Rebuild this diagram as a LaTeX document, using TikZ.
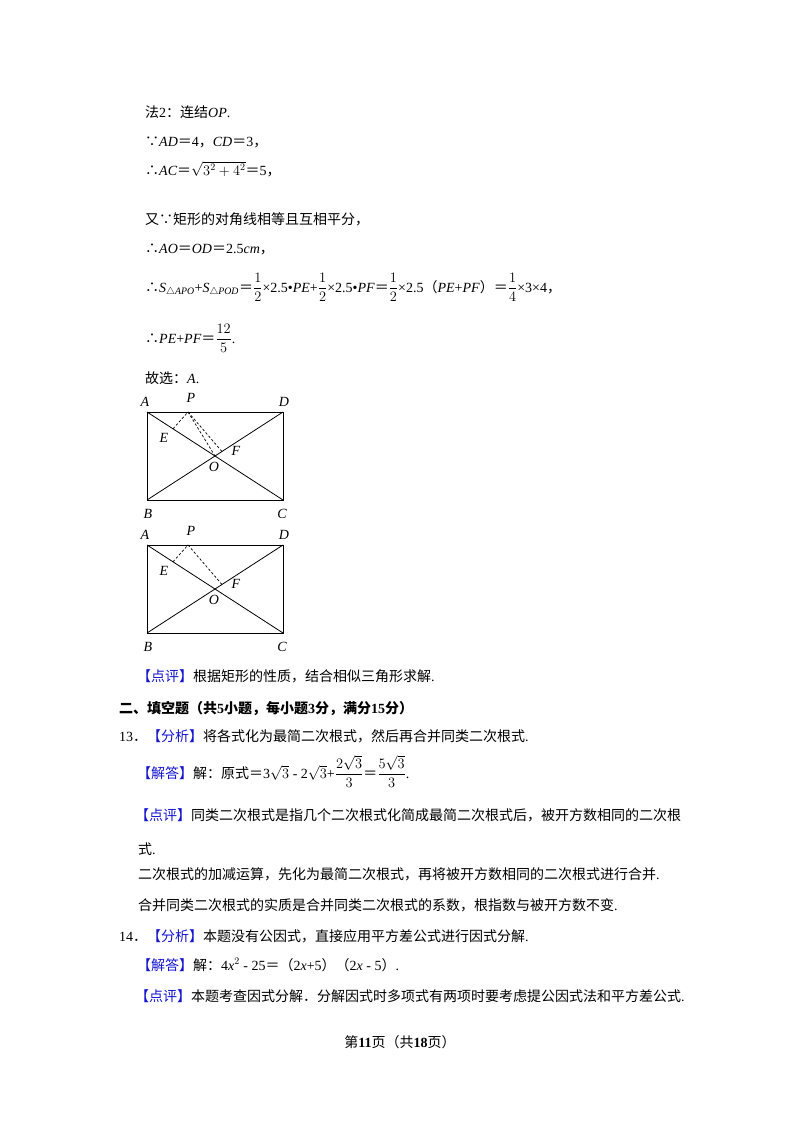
\documentclass[tikz,border=0pt]{standalone}
\usepackage{amsmath}
\usepackage{fontspec}
\usetikzlibrary{calc}
\setmainfont{Liberation Serif}
\newfontfamily\cjk{Noto Sans CJK SC}
\newcommand\latf{\fontfamily{\rmdefault}\selectfont}
\XeTeXinterchartokenstate=1
\newXeTeXintercharclass\CJKcls
\newcount\cc
\def\setrange#1#2{\cc=#1 \loop\XeTeXcharclass\cc=\CJKcls\advance\cc1 \ifnum\cc<#2\repeat}
\setrange{"4E00}{"A000}
\setrange{"3000}{"3040}
\setrange{"FF00}{"FFF0}
\XeTeXcharclass"2234=\CJKcls
\XeTeXcharclass"2235=\CJKcls
\XeTeXinterchartoks 0 \CJKcls = {\cjk}
\XeTeXinterchartoks 4095 \CJKcls = {\cjk}
\XeTeXinterchartoks \CJKcls 0 = {\latf}
\XeTeXinterchartoks \CJKcls 4095 = {\latf}
\definecolor{bl}{RGB}{20,20,210}
\newcommand\bk[1]{\textcolor{bl}{【#1】}}
\tikzset{t/.style={anchor=base west,inner sep=0pt,font=\fontsize{14}{17}\selectfont},
 lab/.style={inner sep=0pt,font=\fontsize{14}{16}\selectfont\itshape},
 edge/.style={line width=0.8pt},
 dsh/.style={line width=0.7pt,dash pattern=on 2.5pt off 2pt}}
\begin{document}
\begin{tikzpicture}[x=1pt,y=-1pt]
\useasboundingbox[fill=white] (0,0) rectangle (800,1132);
\node[t] (l1) at (145,117) {法2：连结\textit{OP}.};
\node[t] (l2) at (145,146) {∵\textit{AD}＝4，\textit{CD}＝3，};
\node[t] (l3) at (145,175) {∴\textit{AC}＝$\sqrt{3^{2}+4^{2}}$＝5，};
\node[t] (l4) at (145,224) {又∵矩形的对角线相等且互相平分，};
\node[t] (l5) at (145,253) {∴\textit{AO}＝\textit{OD}＝2.5\textit{cm}，};
\node[t] (l6) at (145,292) {∴\textit{S}$_{\triangle \mathit{APO}}$+\textit{S}$_{\triangle \mathit{POD}}$＝$\dfrac{1}{2}$×2.5•\textit{PE}+$\dfrac{1}{2}$×2.5•\textit{PF}＝$\dfrac{1}{2}$×2.5（\textit{PE}+\textit{PF}）＝$\dfrac{1}{4}$×3×4，};
\node[t] (l7) at (145,343) {∴\textit{PE}+\textit{PF}＝$\dfrac{12}{5}$.};
\node[t] (l8) at (145,383) {故选：\textit{A}.};
\foreach \dy/\n in {0/1,133/2}{
 \coordinate (A\n) at (147,412+\dy);
 \coordinate (D\n) at (283,412+\dy);
 \coordinate (B\n) at (147,500+\dy);
 \coordinate (C\n) at (283,500+\dy);
 \coordinate (O\n) at (215,456+\dy);
 \coordinate (P\n) at (188,412+\dy);
 \coordinate (E\n) at (173,428.8+\dy);
 \coordinate (F\n) at (222,451.5+\dy);
 \draw[edge] (A\n) rectangle (C\n);
 \draw[edge] (A\n) -- (C\n);
 \draw[edge] (B\n) -- (D\n);
 \draw[dsh] (E\n) -- (P\n) -- (F\n);
 \node[lab] (la\n) at (145,402+\dy) {A};
 \node[lab] (lp\n) at (191,398+\dy) {P};
 \node[lab] (ld\n) at (284,402+\dy) {D};
 \node[lab] (le\n) at (164,438+\dy) {E};
 \node[lab] (lf\n) at (236,451+\dy) {F};
 \node[lab] (lo\n) at (214,467+\dy) {O};
 \node[lab] (lb\n) at (148,514+\dy) {B};
 \node[lab] (lc\n) at (282,514+\dy) {C};
}
\draw[dsh] (P1) -- (O1);
\node[t] (m1) at (137,681) {\bk{点评}根据矩形的性质，结合相似三角形求解.};
\node[t] (m2) at (119,713) {\bfseries 二、填空题（共5小题，每小题3分，满分15分）};
\node[t] (m3) at (119,741) {13．\bk{分析}将各式化为最简二次根式，然后再合并同类二次根式.};
\node[t] (m4) at (137,778) {\bk{解答}解：原式＝3$\sqrt{3}$ - 2$\sqrt{3}$+$\dfrac{2\sqrt{3}}{3}$＝$\dfrac{5\sqrt{3}}{3}$.};
\node[t] (m5) at (135,820) {\bk{点评}同类二次根式是指几个二次根式化简成最简二次根式后，被开方数相同的二次根};
\node[t] (m6) at (138,854) {式.};
\node[t] (m7) at (138,879) {二次根式的加减运算，先化为最简二次根式，再将被开方数相同的二次根式进行合并.};
\node[t] (m8) at (138,910) {合并同类二次根式的实质是合并同类二次根式的系数，根指数与被开方数不变.};
\node[t] (m9) at (119,941) {14．\bk{分析}本题没有公因式，直接应用平方差公式进行因式分解.};
\node[t] (m10) at (137,970) {\bk{解答}解：4\textit{x}$^{2}$ - 25＝（2\textit{x}+5）（2\textit{x} - 5）.};
\node[t] (m11) at (135,1001) {\bk{点评}本题考查因式分解．分解因式时多项式有两项时要考虑提公因式法和平方差公式.};
\node[t,anchor=base] (ft) at (400,1047) {第\textbf{11}页（共\textbf{18}页）};
\end{tikzpicture}
\end{document}
